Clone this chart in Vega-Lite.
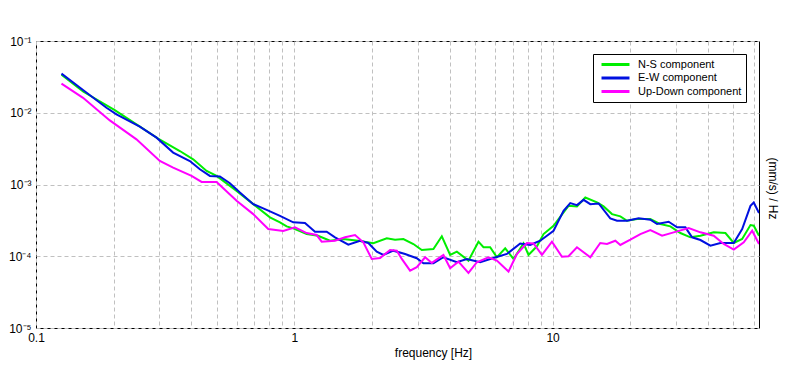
{
  "$schema": "https://vega.github.io/schema/vega-lite/v6.json",
  "width": 723,
  "height": 287,
  "autosize": "none",
  "padding": {"left": 36, "top": 41, "right": 37, "bottom": 42},
  "background": "white",
  "config": {
    "font": "Liberation Sans",
    "view": {"stroke": "#000000", "strokeWidth": 1},
    "axis": {
      "labelFont": "Liberation Sans",
      "titleFont": "Liberation Sans",
      "labelColor": "#000000",
      "titleColor": "#000000",
      "labelFontSize": 12,
      "titleFontSize": 12,
      "titleFontWeight": "normal",
      "domain": false,
      "ticks": false,
      "tickSize": 0,
      "gridColor": "#c0c0c0",
      "gridDash": [4, 3],
      "gridWidth": 1,
      "labelOverlap": false,
      "labelBound": false,
      "labelFlush": false
    }
  },
  "data": {
    "values": [
      {"s": "N-S component", "f": 0.1255, "v": 0.0340},
      {"s": "N-S component", "f": 0.1521, "v": 0.01976},
      {"s": "N-S component", "f": 0.2018, "v": 0.01087},
      {"s": "N-S component", "f": 0.2449, "v": 0.006878},
      {"s": "N-S component", "f": 0.2971, "v": 0.004355},
      {"s": "N-S component", "f": 0.3606, "v": 0.002929},
      {"s": "N-S component", "f": 0.4060, "v": 0.002246},
      {"s": "N-S component", "f": 0.4577, "v": 0.001545},
      {"s": "N-S component", "f": 0.5003, "v": 0.001316},
      {"s": "N-S component", "f": 0.598, "v": 0.0008151},
      {"s": "N-S component", "f": 0.6936, "v": 0.0005325},
      {"s": "N-S component", "f": 0.805, "v": 0.0003481},
      {"s": "N-S component", "f": 0.8804, "v": 0.0002966},
      {"s": "N-S component", "f": 0.9344, "v": 0.000261},
      {"s": "N-S component", "f": 0.991, "v": 0.0002448},
      {"s": "N-S component", "f": 1.117, "v": 0.000204},
      {"s": "N-S component", "f": 1.236, "v": 0.0001932},
      {"s": "N-S component", "f": 1.375, "v": 0.0001647},
      {"s": "N-S component", "f": 1.548, "v": 0.0001739},
      {"s": "N-S component", "f": 1.770, "v": 0.0001647},
      {"s": "N-S component", "f": 2.024, "v": 0.0001515},
      {"s": "N-S component", "f": 2.281, "v": 0.0001778},
      {"s": "N-S component", "f": 2.456, "v": 0.0001701},
      {"s": "N-S component", "f": 2.645, "v": 0.0001739},
      {"s": "N-S component", "f": 2.892, "v": 0.0001482},
      {"s": "N-S component", "f": 3.117, "v": 0.0001223},
      {"s": "N-S component", "f": 3.457, "v": 0.0001263},
      {"s": "N-S component", "f": 3.726, "v": 0.0001896},
      {"s": "N-S component", "f": 4.013, "v": 0.0001043},
      {"s": "N-S component", "f": 4.261, "v": 0.0001159},
      {"s": "N-S component", "f": 4.725, "v": 0.00008687},
      {"s": "N-S component", "f": 5.166, "v": 0.0001595},
      {"s": "N-S component", "f": 5.402, "v": 0.0001334},
      {"s": "N-S component", "f": 5.734, "v": 0.0001334},
      {"s": "N-S component", "f": 6.087, "v": 0.00009685},
      {"s": "N-S component", "f": 6.556, "v": 0.0001291},
      {"s": "N-S component", "f": 7.063, "v": 0.00009173},
      {"s": "N-S component", "f": 7.719, "v": 0.0001515},
      {"s": "N-S component", "f": 8.072, "v": 0.0001043},
      {"s": "N-S component", "f": 8.700, "v": 0.0001377},
      {"s": "N-S component", "f": 9.228, "v": 0.000204},
      {"s": "N-S component", "f": 10.09, "v": 0.0002661},
      {"s": "N-S component", "f": 11.03, "v": 0.0004085},
      {"s": "N-S component", "f": 11.53, "v": 0.0005043},
      {"s": "N-S component", "f": 12.43, "v": 0.0004948},
      {"s": "N-S component", "f": 13.39, "v": 0.0006597},
      {"s": "N-S component", "f": 14.86, "v": 0.0005623},
      {"s": "N-S component", "f": 15.76, "v": 0.0004948},
      {"s": "N-S component", "f": 16.99, "v": 0.0003868},
      {"s": "N-S component", "f": 18.30, "v": 0.0003594},
      {"s": "N-S component", "f": 19.43, "v": 0.0003122},
      {"s": "N-S component", "f": 21.24, "v": 0.0003297},
      {"s": "N-S component", "f": 23.91, "v": 0.0003297},
      {"s": "N-S component", "f": 26.15, "v": 0.0002809},
      {"s": "N-S component", "f": 28.59, "v": 0.000261},
      {"s": "N-S component", "f": 31.26, "v": 0.0002106},
      {"s": "N-S component", "f": 34.17, "v": 0.0001836},
      {"s": "N-S component", "f": 37.37, "v": 0.0001932},
      {"s": "N-S component", "f": 42.07, "v": 0.0002154},
      {"s": "N-S component", "f": 46.71, "v": 0.0002106},
      {"s": "N-S component", "f": 50.30, "v": 0.000153},
      {"s": "N-S component", "f": 54.22, "v": 0.0001739},
      {"s": "N-S component", "f": 58.39, "v": 0.0002721},
      {"s": "N-S component", "f": 60.13, "v": 0.0002661},
      {"s": "N-S component", "f": 63, "v": 0.0001932},

      {"s": "E-W component", "f": 0.1255, "v": 0.03514},
      {"s": "E-W component", "f": 0.1521, "v": 0.02073},
      {"s": "E-W component", "f": 0.1875, "v": 0.01173},
      {"s": "E-W component", "f": 0.2049, "v": 0.009471},
      {"s": "E-W component", "f": 0.2523, "v": 0.006391},
      {"s": "E-W component", "f": 0.2929, "v": 0.004495},
      {"s": "E-W component", "f": 0.3396, "v": 0.002783},
      {"s": "E-W component", "f": 0.3942, "v": 0.002127},
      {"s": "E-W component", "f": 0.4311, "v": 0.001631},
      {"s": "E-W component", "f": 0.4713, "v": 0.001316},
      {"s": "E-W component", "f": 0.5152, "v": 0.001291},
      {"s": "E-W component", "f": 0.5633, "v": 0.001043},
      {"s": "E-W component", "f": 0.6159, "v": 0.0007743},
      {"s": "E-W component", "f": 0.6936, "v": 0.0005325},
      {"s": "E-W component", "f": 0.7816, "v": 0.0004438},
      {"s": "E-W component", "f": 0.8804, "v": 0.0003664},
      {"s": "E-W component", "f": 0.991, "v": 0.0002966},
      {"s": "E-W component", "f": 1.100, "v": 0.0002901},
      {"s": "E-W component", "f": 1.203, "v": 0.0002196},
      {"s": "E-W component", "f": 1.335, "v": 0.0002196},
      {"s": "E-W component", "f": 1.438, "v": 0.0001836},
      {"s": "E-W component", "f": 1.619, "v": 0.0001449},
      {"s": "E-W component", "f": 1.797, "v": 0.0001647},
      {"s": "E-W component", "f": 1.935, "v": 0.000153},
      {"s": "E-W component", "f": 2.086, "v": 0.0001159},
      {"s": "E-W component", "f": 2.213, "v": 0.0001043},
      {"s": "E-W component", "f": 2.419, "v": 0.0001196},
      {"s": "E-W component", "f": 2.686, "v": 0.0001076},
      {"s": "E-W component", "f": 2.981, "v": 0.0000938},
      {"s": "E-W component", "f": 3.162, "v": 0.00007995},
      {"s": "E-W component", "f": 3.457, "v": 0.00007995},
      {"s": "E-W component", "f": 3.780, "v": 0.00009685},
      {"s": "E-W component", "f": 4.261, "v": 0.00008254},
      {"s": "E-W component", "f": 4.658, "v": 0.00009173},
      {"s": "E-W component", "f": 5.245, "v": 0.00008254},
      {"s": "E-W component", "f": 5.905, "v": 0.00009471},
      {"s": "E-W component", "f": 6.657, "v": 0.0001076},
      {"s": "E-W component", "f": 7.495, "v": 0.0001506},
      {"s": "E-W component", "f": 8.196, "v": 0.0001435},
      {"s": "E-W component", "f": 8.961, "v": 0.0001647},
      {"s": "E-W component", "f": 10.09, "v": 0.0002268},
      {"s": "E-W component", "f": 11.03, "v": 0.0004299},
      {"s": "E-W component", "f": 11.71, "v": 0.0005498},
      {"s": "E-W component", "f": 12.43, "v": 0.0005158},
      {"s": "E-W component", "f": 13.19, "v": 0.0006111},
      {"s": "E-W component", "f": 14.00, "v": 0.0005325},
      {"s": "E-W component", "f": 15.08, "v": 0.0005445},
      {"s": "E-W component", "f": 16.73, "v": 0.0003372},
      {"s": "E-W component", "f": 17.77, "v": 0.0003122},
      {"s": "E-W component", "f": 19.43, "v": 0.0003122},
      {"s": "E-W component", "f": 21.54, "v": 0.0003372},
      {"s": "E-W component", "f": 23.91, "v": 0.0003224},
      {"s": "E-W component", "f": 25.39, "v": 0.0002809},
      {"s": "E-W component", "f": 28.16, "v": 0.0003024},
      {"s": "E-W component", "f": 30.35, "v": 0.0002528},
      {"s": "E-W component", "f": 32.68, "v": 0.0002528},
      {"s": "E-W component", "f": 34.70, "v": 0.0001836},
      {"s": "E-W component", "f": 37.37, "v": 0.0001684},
      {"s": "E-W component", "f": 40.85, "v": 0.0001404},
      {"s": "E-W component", "f": 44.67, "v": 0.000153},
      {"s": "E-W component", "f": 50.30, "v": 0.000153},
      {"s": "E-W component", "f": 54.22, "v": 0.0002394},
      {"s": "E-W component", "f": 58.39, "v": 0.0005043},
      {"s": "E-W component", "f": 60.13, "v": 0.0005623},
      {"s": "E-W component", "f": 63, "v": 0.0003994},

      {"s": "Up-Down component", "f": 0.1255, "v": 0.02552},
      {"s": "Up-Down component", "f": 0.1521, "v": 0.01615},
      {"s": "Up-Down component", "f": 0.1931, "v": 0.007818},
      {"s": "Up-Down component", "f": 0.2449, "v": 0.004259},
      {"s": "Up-Down component", "f": 0.3016, "v": 0.002127},
      {"s": "Up-Down component", "f": 0.3396, "v": 0.001722},
      {"s": "Up-Down component", "f": 0.4002, "v": 0.001316},
      {"s": "Up-Down component", "f": 0.4377, "v": 0.001087},
      {"s": "Up-Down component", "f": 0.5003, "v": 0.001087},
      {"s": "Up-Down component", "f": 0.598, "v": 0.0005918},
      {"s": "Up-Down component", "f": 0.6936, "v": 0.0003868},
      {"s": "Up-Down component", "f": 0.7929, "v": 0.0002394},
      {"s": "Up-Down component", "f": 0.9066, "v": 0.0002246},
      {"s": "Up-Down component", "f": 1.006, "v": 0.0002528},
      {"s": "Up-Down component", "f": 1.117, "v": 0.0002106},
      {"s": "Up-Down component", "f": 1.221, "v": 0.0001976},
      {"s": "Up-Down component", "f": 1.277, "v": 0.0001595},
      {"s": "Up-Down component", "f": 1.438, "v": 0.0001647},
      {"s": "Up-Down component", "f": 1.572, "v": 0.0001836},
      {"s": "Up-Down component", "f": 1.719, "v": 0.0001976},
      {"s": "Up-Down component", "f": 1.851, "v": 0.0001564},
      {"s": "Up-Down component", "f": 1.995, "v": 0.00009173},
      {"s": "Up-Down component", "f": 2.149, "v": 0.00009471},
      {"s": "Up-Down component", "f": 2.349, "v": 0.0001223},
      {"s": "Up-Down component", "f": 2.494, "v": 0.0001196},
      {"s": "Up-Down component", "f": 2.608, "v": 0.00009173},
      {"s": "Up-Down component", "f": 2.808, "v": 0.0000631},
      {"s": "Up-Down component", "f": 2.981, "v": 0.00007035},
      {"s": "Up-Down component", "f": 3.211, "v": 0.00009685},
      {"s": "Up-Down component", "f": 3.408, "v": 0.0000807},
      {"s": "Up-Down component", "f": 3.780, "v": 0.0001043},
      {"s": "Up-Down component", "f": 4.013, "v": 0.00006813},
      {"s": "Up-Down component", "f": 4.322, "v": 0.00008414},
      {"s": "Up-Down component", "f": 4.725, "v": 0.00005862},
      {"s": "Up-Down component", "f": 5.093, "v": 0.00008254},
      {"s": "Up-Down component", "f": 5.647, "v": 0.00009685},
      {"s": "Up-Down component", "f": 6.087, "v": 0.00008687},
      {"s": "Up-Down component", "f": 6.752, "v": 0.00006111},
      {"s": "Up-Down component", "f": 7.278, "v": 0.0001076},
      {"s": "Up-Down component", "f": 7.958, "v": 0.000153},
      {"s": "Up-Down component", "f": 8.441, "v": 0.0001506},
      {"s": "Up-Down component", "f": 9.097, "v": 0.0001043},
      {"s": "Up-Down component", "f": 9.947, "v": 0.0001595},
      {"s": "Up-Down component", "f": 10.87, "v": 0.00009872},
      {"s": "Up-Down component", "f": 11.53, "v": 0.0001},
      {"s": "Up-Down component", "f": 12.43, "v": 0.0001334},
      {"s": "Up-Down component", "f": 14.00, "v": 0.00009685},
      {"s": "Up-Down component", "f": 15.30, "v": 0.000153},
      {"s": "Up-Down component", "f": 16.25, "v": 0.0001482},
      {"s": "Up-Down component", "f": 17.50, "v": 0.0001647},
      {"s": "Up-Down component", "f": 18.30, "v": 0.0001435},
      {"s": "Up-Down component", "f": 20.01, "v": 0.0001701},
      {"s": "Up-Down component", "f": 21.88, "v": 0.000204},
      {"s": "Up-Down component", "f": 23.91, "v": 0.0002318},
      {"s": "Up-Down component", "f": 26.55, "v": 0.0001932},
      {"s": "Up-Down component", "f": 29.44, "v": 0.0002154},
      {"s": "Up-Down component", "f": 33.66, "v": 0.0002472},
      {"s": "Up-Down component", "f": 37.37, "v": 0.0002154},
      {"s": "Up-Down component", "f": 42.07, "v": 0.0001932},
      {"s": "Up-Down component", "f": 46.00, "v": 0.0001482},
      {"s": "Up-Down component", "f": 50.30, "v": 0.0001235},
      {"s": "Up-Down component", "f": 55.00, "v": 0.0001564},
      {"s": "Up-Down component", "f": 59.28, "v": 0.0002268},
      {"s": "Up-Down component", "f": 63, "v": 0.0001482}
    ]
  },
  "mark": {"type": "line", "strokeWidth": 2, "clip": true, "interpolate": "linear"},
  "encoding": {
    "x": {
      "field": "f",
      "type": "quantitative",
      "scale": {"type": "log", "domain": [0.1, 63], "nice": false},
      "axis": {
        "title": "frequency [Hz]",
        "titleX": 397,
        "titleY": 24,
        "titleBaseline": "middle",
        "titleAlign": "center",
        "labelPadding": 4,
        "values": [0.1, 0.2, 0.3, 0.4, 0.5, 0.6, 0.7, 0.8, 0.9, 1, 2, 3, 4, 5, 6, 7, 8, 9, 10, 20, 30, 40, 50, 60],
        "labelExpr": "datum.value == 0.1 ? '0.1' : datum.value == 1 ? '1' : datum.value == 10 ? '10' : ''"
      }
    },
    "y": {
      "field": "v",
      "type": "quantitative",
      "scale": {"type": "log", "domain": [0.00001, 0.1], "nice": false},
      "axis": {
        "title": "(mm/s) / Hz",
        "titleAngle": 90,
        "titleX": 736,
        "titleY": 147,
        "titleBaseline": "middle",
        "titleAlign": "center",
        "labelPadding": 5,
        "values": [0.00001, 0.0001, 0.001, 0.01, 0.1],
        "labelExpr": "datum.value > 0.05 ? '10⁻¹' : datum.value > 0.005 ? '10⁻²' : datum.value > 0.0005 ? '10⁻³' : datum.value > 0.00005 ? '10⁻⁴' : '10⁻⁵'"
      }
    },
    "color": {
      "field": "s",
      "type": "nominal",
      "scale": {
        "domain": ["N-S component", "E-W component", "Up-Down component"],
        "range": ["#00ee00", "#0010e0", "#ff00ff"]
      },
      "legend": {
        "title": null,
        "orient": "none",
        "legendX": 557,
        "legendY": 13,
        "fillColor": "white",
        "strokeColor": "black",
        "padding": 4,
        "symbolType": "M-3,0H3",
        "symbolSize": 87,
        "symbolStrokeWidth": 3,
        "symbolOffset": 12,
        "labelFontSize": 11,
        "labelFont": "Liberation Sans",
        "labelColor": "#000000",
        "labelOffset": 16,
        "rowPadding": 0.5
      }
    }
  }
}
